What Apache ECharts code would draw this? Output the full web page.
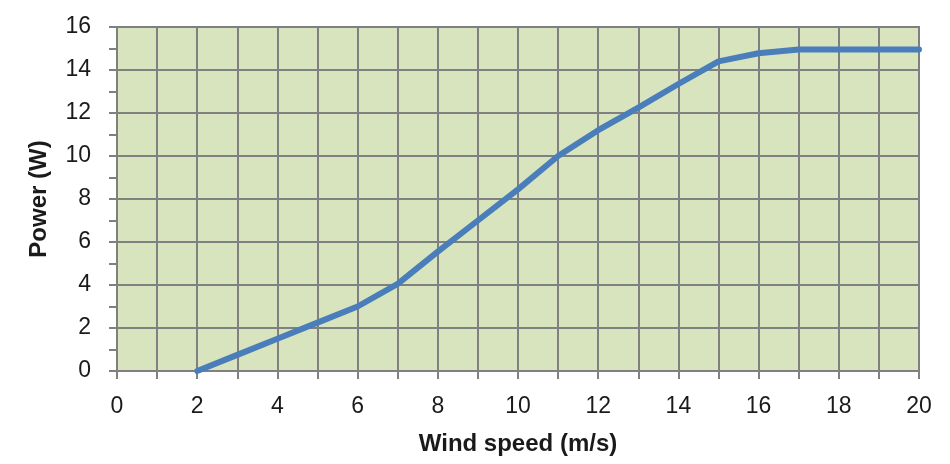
<!DOCTYPE html>
<html>
<head>
<meta charset="utf-8">
<script src="https://cdn.jsdelivr.net/npm/echarts@6/dist/echarts.min.js"></script>
<style>html,body{margin:0;padding:0;background:#fff;}#c{width:950px;height:464px;}</style>
</head>
<body>
<div id="c"></div>
<script>
const windSpeed = [2, 3, 4, 5, 6, 7, 8, 9, 10, 11, 12, 13, 14, 15, 16, 17, 18, 19, 20];
const power = [0, 0.75, 1.5, 2.25, 3.0, 4.05, 5.55, 7.0, 8.45, 10.0, 11.2, 12.25, 13.35, 14.4, 14.78, 14.95, 14.95, 14.95, 14.95];
const xTitle = 'Wind speed (m/s)';
const yTitle = 'Power (W)';

const gridColor = '#808080';
const chart = echarts.init(document.getElementById('c'), null, {renderer: 'canvas'});
chart.setOption({
  animation: false,
  backgroundColor: '#ffffff',
  grid: {
    left: 117, right: 31, top: 27, bottom: 93,
    show: true, backgroundColor: '#d8e4bd', borderColor: gridColor, borderWidth: 2
  },
  xAxis: {
    type: 'value', min: 0, max: 20, interval: 1,
    name: xTitle, nameLocation: 'middle', nameGap: 61,
    nameTextStyle: {fontFamily: 'Liberation Sans', fontWeight: 'bold', fontSize: 24, color: '#1a1a1a'},
    axisLine: {show: true, lineStyle: {color: gridColor, width: 2}},
    axisTick: {show: true, length: 8, lineStyle: {color: gridColor, width: 2}},
    axisLabel: {
      margin: 24, fontFamily: 'Liberation Sans', fontSize: 23, color: '#1a1a1a',
      formatter: v => (v % 2 === 0 ? String(v) : '')
    },
    splitLine: {show: true, lineStyle: {color: gridColor, width: 2}}
  },
  yAxis: {
    type: 'value', min: 0, max: 16, interval: 2,
    name: yTitle, nameLocation: 'middle', nameGap: 66, nameRotate: 90,
    nameTextStyle: {fontFamily: 'Liberation Sans', fontWeight: 'bold', fontSize: 24, color: '#1a1a1a'},
    axisLine: {show: true, lineStyle: {color: gridColor, width: 2}},
    axisTick: {show: true, length: 8, lineStyle: {color: gridColor, width: 2}},
    minorTick: {show: true, splitNumber: 2, length: 8, lineStyle: {color: gridColor, width: 2}},
    axisLabel: {margin: 26, fontFamily: 'Liberation Sans', fontSize: 23, color: '#1a1a1a'},
    splitLine: {show: true, lineStyle: {color: gridColor, width: 2}}
  },
  series: [{
    type: 'line',
    data: windSpeed.map((x, i) => [x, power[i]]),
    showSymbol: false,
    smooth: false,
    lineStyle: {color: '#4a7ebb', width: 6, cap: 'round', join: 'round'},
    itemStyle: {color: '#4a7ebb'}
  }]
});
</script>
</body>
</html>
